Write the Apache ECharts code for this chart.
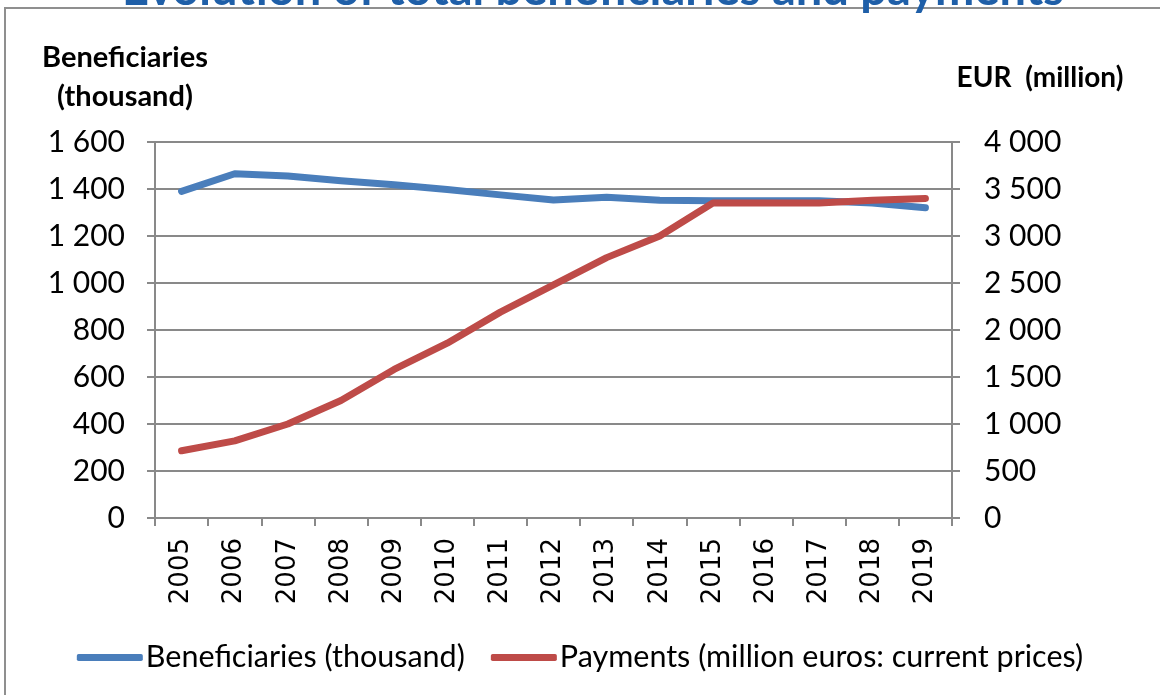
<!DOCTYPE html>
<html>
<head>
<meta charset="utf-8">
<script src="https://cdn.jsdelivr.net/npm/echarts@6/dist/echarts.min.js"></script>
<style>
html,body{margin:0;padding:0;background:#fff;}
#chart{width:1160px;height:695px;}
</style>
</head>
<body>
<div id="chart"></div>
<script>
var titleText = 'Evolution of total beneficiaries and payments';
var years = ['2005','2006','2007','2008','2009','2010','2011','2012','2013','2014','2015','2016','2017','2018','2019'];
var beneficiaries = [1390, 1465, 1455, 1435, 1418, 1398, 1375, 1353, 1365, 1352, 1350, 1350, 1350, 1340, 1320];
var payments = [715, 820, 1000, 1250, 1580, 1860, 2190, 2480, 2770, 3000, 3350, 3350, 3350, 3380, 3400];
var seriesNames = ['Beneficiaries (thousand)', 'Payments (million euros: current prices)'];
var leftAxisName = 'Beneficiaries\n(thousand)';
var rightAxisName = 'EUR  (million)';

function fmt(v) {
  return String(v).replace(/\B(?=(\d{3})+(?!\d))/g, ' ');
}

var gray = '#898989';
var chart = echarts.init(document.getElementById('chart'));
chart.setOption({
  animation: false,
  backgroundColor: '#fff',
  title: {
    text: titleText,
    left: 122,
    top: -34,
    padding: 0,
    textStyle: {fontFamily: 'Lato', fontWeight: 'bold', fontSize: 47, color: '#1F5FA8'}
  },
  graphic: [{
    type: 'rect', z: -10, silent: true,
    shape: {x: 5, y: 8, width: 1200, height: 720},
    style: {fill: null, stroke: '#8f8f8f', lineWidth: 2}
  }],
  grid: {left: 155, right: 208, top: 142, bottom: 177, containLabel: false},
  legend: {
    data: seriesNames,
    top: 637,
    left: 'center',
    icon: 'roundRect',
    itemWidth: 66,
    itemHeight: 7,
    itemGap: 26,
    textStyle: {fontFamily: 'Lato', fontSize: 30.5, color: '#000', padding: [0, 0, 0, -2]}
  },
  xAxis: {
    type: 'category',
    data: years,
    boundaryGap: true,
    axisLine: {lineStyle: {color: gray, width: 2}},
    axisTick: {show: true, alignWithLabel: false, length: 8, lineStyle: {color: gray, width: 2}},
    axisLabel: {rotate: 90, margin: 20, fontFamily: 'DejaVu Sans', fontSize: 26, color: '#000', interval: 0}
  },
  yAxis: [{
    type: 'value', min: 0, max: 1600, interval: 200,
    name: leftAxisName,
    nameLocation: 'end',
    nameGap: 26,
    nameTextStyle: {fontFamily: 'Lato', fontWeight: 'bold', fontSize: 29, color: '#000', align: 'center', verticalAlign: 'bottom', lineHeight: 39, padding: [0, 60, 0, 0]},
    axisLine: {show: true, lineStyle: {color: gray, width: 2}},
    axisTick: {show: true, length: 8, lineStyle: {color: gray, width: 2}},
    axisLabel: {margin: 30, fontFamily: 'Lato', fontSize: 30, color: '#000', formatter: fmt},
    splitLine: {show: true, lineStyle: {color: gray, width: 2}}
  }, {
    type: 'value', min: 0, max: 4000, interval: 500,
    name: rightAxisName,
    nameLocation: 'end',
    nameGap: 50,
    nameTextStyle: {fontFamily: 'Lato', fontWeight: 'bold', fontSize: 28, color: '#000', align: 'center', verticalAlign: 'bottom', padding: [0, 0, 0, 176]},
    axisLine: {show: true, lineStyle: {color: gray, width: 2}},
    axisTick: {show: true, length: 8, lineStyle: {color: gray, width: 2}},
    axisLabel: {margin: 32, fontFamily: 'Lato', fontSize: 30, color: '#000', formatter: fmt},
    splitLine: {show: false}
  }],
  series: [{
    name: seriesNames[0], type: 'line', yAxisIndex: 0, data: beneficiaries,
    symbol: 'none', itemStyle: {color: '#4A7EBB'},
    lineStyle: {color: '#4A7EBB', width: 7, cap: 'round', join: 'round'}
  }, {
    name: seriesNames[1], type: 'line', yAxisIndex: 1, data: payments,
    symbol: 'none', itemStyle: {color: '#BE4B48'},
    lineStyle: {color: '#BE4B48', width: 7, cap: 'round', join: 'round'}
  }]
});
</script>
</body>
</html>
